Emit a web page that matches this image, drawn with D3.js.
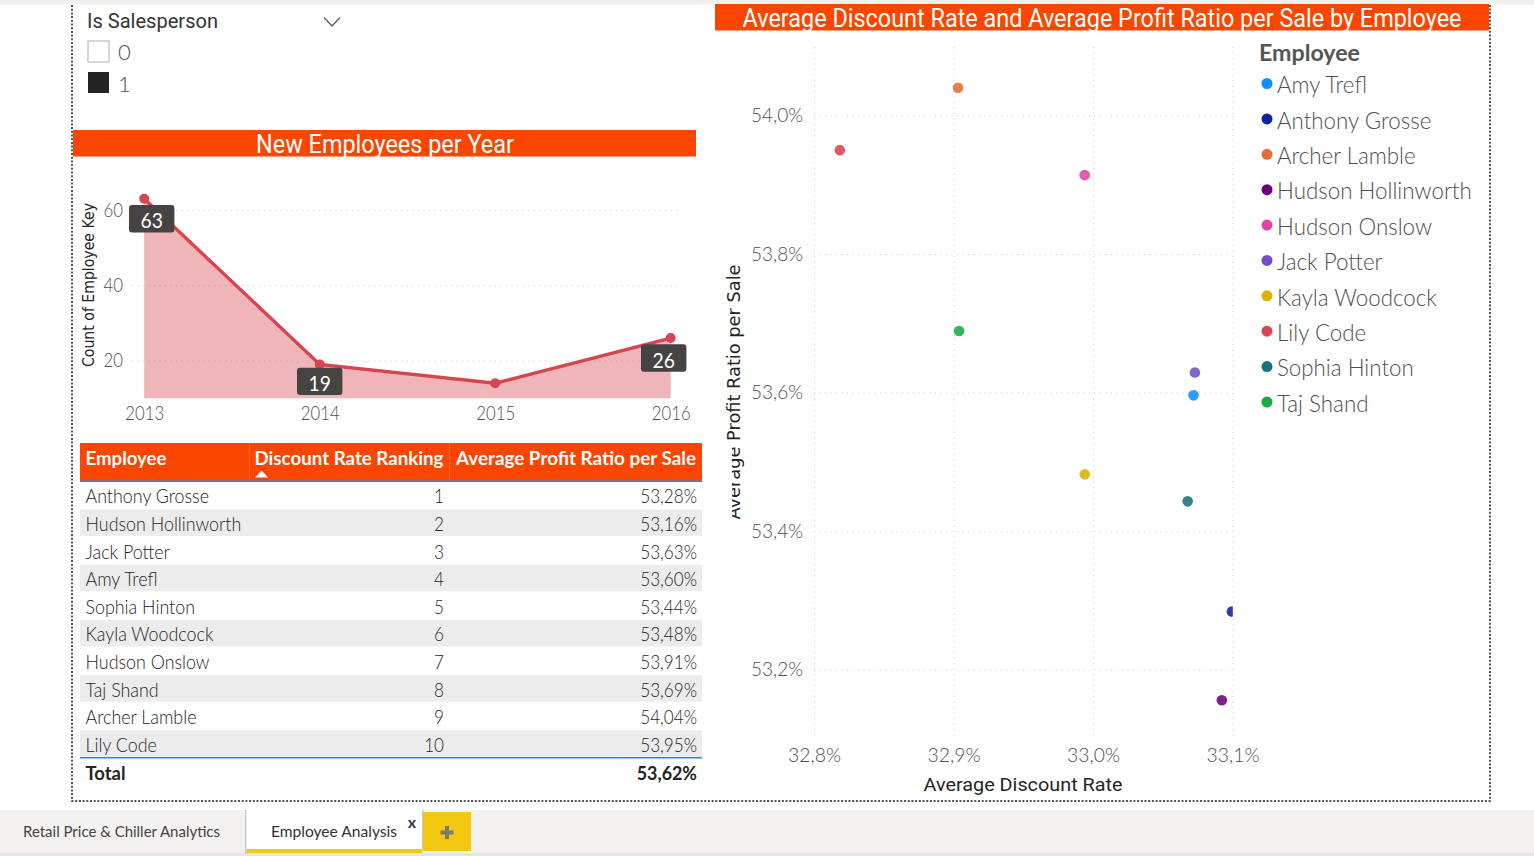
<!DOCTYPE html>
<html><head><meta charset="utf-8">
<script src="https://cdnjs.cloudflare.com/ajax/libs/d3/7.8.5/d3.min.js"></script>
<style>
html,body{margin:0;padding:0;background:#fff;overflow:hidden}
svg{display:block}
text{font-family:Lato,"Open Sans",sans-serif}
.grid line{stroke:#c8c8c8;stroke-dasharray:1 4.5}
.domain{display:none}
.tickl{fill:#504e4c;font-size:19px;font-weight:300}
</style></head><body>
<svg id="c" width="1534" height="856"></svg>
<script>
// ---- data ----
const years = [2013, 2014, 2015, 2016];
const newEmployees = [63, 19, 14, 26];
const labelledYears = [2013, 2014, 2016];

const rankedEmployees = ["Anthony Grosse","Hudson Hollinworth","Jack Potter","Amy Trefl","Sophia Hinton","Kayla Woodcock","Hudson Onslow","Taj Shand","Archer Lamble","Lily Code"];
const discountRate = [33.0995, 33.0923, 33.073, 33.072, 33.0678, 32.994, 32.994, 32.904, 32.9032, 32.8185];
const profitRatio = [53.284, 53.156, 53.629, 53.596, 53.443, 53.482, 53.914, 53.689, 54.040, 53.950];
const ranks = [1,2,3,4,5,6,7,8,9,10];
const totalProfit = 53.62;

const legendNames = ["Amy Trefl","Anthony Grosse","Archer Lamble","Hudson Hollinworth","Hudson Onslow","Jack Potter","Kayla Woodcock","Lily Code","Sophia Hinton","Taj Shand"];
const legendColors = ["#118dff","#12239e","#e66c37","#6b007b","#e044a7","#744ec2","#d9b300","#d64550","#197278","#1aab40"];
const tableHeaders = ["Employee","Discount Rate Ranking","Average Profit Ratio per Sale"];
const slicerTitle = "Is Salesperson";
const slicerItems = ["0","1"];
const tabs = ["Retail Price & Chiller Analytics","Employee Analysis"];
const xTicks = [32.8,32.9,33.0,33.1];
const yTicks = [53.2,53.4,53.6,53.8,54.0];
const lineTicks = [20,40,60];

// ---- helpers ----
const svg = d3.select("#c");
const orange = "#fa4600", blue="#118dff", ink="#252423", soft="#504e4c";
const loc = d3.formatLocale({decimal:",",thousands:".",grouping:[3],currency:["","€"]});
const pct1 = v => loc.format(".1f")(v)+"%";
const pct2 = v => loc.format(".2f")(v)+"%";
function squeeze(sel,f){
  sel.each(function(){
    const l=this.getComputedTextLength();
    d3.select(this).attr("textLength",l*f).attr("lengthAdjust","spacingAndGlyphs");
  });
  return sel;
}
function txt(g,s,x,y,o={}){
  const t=g.append("text").attr("x",x).attr("y",y).attr("dominant-baseline","central")
    .attr("text-anchor",o.anchor||"start").attr("fill",o.fill||ink)
    .style("font-size",(o.size||18)+"px").style("font-weight",o.weight||400)
    .style("font-family",o.font||null).text(s);
  if(o.len) t.attr("textLength",o.len).attr("lengthAdjust","spacingAndGlyphs");
  if(o.sq) squeeze(t,o.sq);
  return t;
}
function rect(g,x,y,w,h,f){return g.append("rect").attr("x",x).attr("y",y).attr("width",w).attr("height",h).attr("fill",f);}

// ---- page chrome ----
rect(svg,0,0,1534,4,"#f1f0ef");
rect(svg,0,4,1534,1,"#f7f7f6");
rect(svg,0,810,1534,46,"#f3f2f1");
rect(svg,0,853,1534,3,"#e6e5e3");
svg.append("path").attr("d","M72 5V801H1490V5").attr("fill","none").attr("stroke","#555").attr("stroke-width",2).attr("stroke-dasharray","2 1.7");

// tabs
rect(svg,245,810,1.5,44,"#c8c6c4");
rect(svg,246.5,810,176,39,"#fff");
rect(svg,422,810,1.5,39,"#c8c6c4");
rect(svg,246.5,849,176,4,"#f2c811");
rect(svg,423,812,48,39,"#f2c811");
txt(svg,tabs[0],23,830.5,{size:16,fill:"#444",len:197});
txt(svg,tabs[1],271,830.5,{size:16,fill:"#333",len:126});
txt(svg,"x",412,821,{size:16,anchor:"middle",fill:"#333",weight:700});
svg.append("path").attr("d","M447 826v13M440.5 832.5h13").attr("stroke","#7d7a6a").attr("stroke-width",4).attr("fill","none");

// ---- slicer ----
txt(svg,slicerTitle,87,21.5,{size:19.5,font:"Roboto",fill:"#333",len:131});
svg.append("path").attr("d","M324 17.5l8 8.5 8-8.5").attr("fill","none").attr("stroke","#555").attr("stroke-width",1.2);
rect(svg,88,41,21,21,"#fff").attr("stroke","#c8c6c4").attr("stroke-width",1.4);
rect(svg,88,72,21,21,"#252423");
txt(svg,slicerItems[0],118,51.5,{size:22,fill:soft,weight:300});
txt(svg,slicerItems[1],118,83,{size:22,fill:soft,weight:300});

// ---- line chart ----
rect(svg,73,130,623,26.5,orange);
txt(svg,"New Employees per Year",385,144.5,{size:25,anchor:"middle",fill:"#fff",font:"Roboto",weight:400,len:258});

const lx = d3.scalePoint().domain(years).range([144.2,670.7]);
const ly = d3.scaleLinear().domain([10,60]).range([398.3,210]);
const lineData = years.map((y,i)=>({y,v:newEmployees[i]}));

const lg = svg.append("g");
lg.append("g").attr("class","grid").attr("transform","translate(132,0)")
  .call(d3.axisLeft(ly).tickValues(lineTicks).tickSize(-548).tickPadding(9).tickFormat(d3.format("d")))
  .call(g=>squeeze(g.selectAll("text").attr("class","tickl").attr("x",-9),.88));
lg.append("g").attr("transform","translate(0,414)")
  .call(d3.axisBottom(lx).tickSize(0).tickPadding(0).tickFormat(d3.format("d")))
  .call(g=>squeeze(g.selectAll("text").attr("class","tickl").attr("dy","0.32em").attr("y",0),.88));
lg.append("path").datum(lineData).attr("fill","#d64550").attr("fill-opacity",.4)
  .attr("d",d3.area().x(d=>lx(d.y)).y0(ly(10)).y1(d=>ly(d.v)));
lg.append("path").datum(lineData).attr("fill","none").attr("stroke","#d64550").attr("stroke-width",3.4)
  .attr("d",d3.line().x(d=>lx(d.y)).y(d=>ly(d.v)));
lg.selectAll("circle").data(lineData).join("circle").attr("r",5).attr("fill","#d64550")
  .attr("cx",d=>lx(d.y)).attr("cy",d=>ly(d.v));
txt(lg,"Count of Employee Key",0,0,{size:15,fill:ink,anchor:"middle",font:"'DejaVu Sans'",len:164})
  .attr("transform","translate(88.5,285) rotate(-90)");
lineData.filter(d=>labelledYears.includes(d.y)).forEach(d=>{
  const dx = d.y===2013?7.5:(d.y===2016?-7:0);
  const dy = d.y===2013?20:(d.y===2014?17:20);
  const cx = lx(d.y)+dx, cy = ly(d.v)+dy;
  lg.append("rect").attr("x",cx-22.7).attr("y",cy-13.7).attr("width",45.4).attr("height",27.4).attr("rx",3).attr("fill","#474343");
  txt(lg,d.v,cx,cy+1,{size:21,fill:"#fff",anchor:"middle",sq:.92});
});

// ---- table ----
const tb = svg.append("g");
const rowH = 27.6, rowTop = 481;
const rowY = d3.scaleLinear().domain([0,10]).range([rowTop,rowTop+10*rowH]);
rect(tb,80,443,622,38,orange);
rect(tb,249,443,1,38,"#ff6a2b"); rect(tb,449,443,1,38,"#ff6a2b");
txt(tb,tableHeaders[0],85.5,457.5,{size:18.5,weight:700,fill:"#fff",len:81});
txt(tb,tableHeaders[1],254.5,457.5,{size:18.5,weight:700,fill:"#fff",len:189});
txt(tb,tableHeaders[2],456,457.5,{size:18.5,weight:700,fill:"#fff",len:240});
tb.append("path").attr("d","M255 477.5l6.5-7 6.5 7z").attr("fill","#fff");
rect(tb,80,480.5,622,1.5,blue);
rankedEmployees.forEach((n,i)=>{
  const y=rowY(i);
  if(i%2) rect(tb,80,y+1,622,rowH-1.2,"#ececec");
  const my=y+rowH/2+1;
  txt(tb,n,85.5,my,{size:19,fill:ink,weight:300,sq:.94});
  txt(tb,ranks[i],444,my,{size:19,fill:ink,anchor:"end",weight:300,sq:.9});
  txt(tb,pct2(profitRatio[i]),697,my,{size:19,fill:ink,anchor:"end",weight:300,sq:.9});
});
rect(tb,80,757,622,1.5,blue);
txt(tb,"Total",85.5,772.5,{size:19,weight:700,fill:ink,sq:.97});
txt(tb,pct2(totalProfit),697,772.5,{size:19,weight:700,fill:ink,anchor:"end",sq:.94});

// ---- scatter ----
rect(svg,715,4,774,26.5,orange);
txt(svg,"Average Discount Rate and Average Profit Ratio per Sale by Employee",1102,18.5,{size:25,anchor:"middle",fill:"#fff",font:"Roboto",weight:400,len:719});

const sx = d3.scaleLinear().domain([32.8,33.1]).range([814,1232.6]);
const sy = d3.scaleLinear().domain([53.2,54.0]).range([669.7,115.5]);
const sc = svg.append("g");
sc.append("g").attr("class","grid").attr("transform","translate(814,0)")
  .call(d3.axisLeft(sy).tickValues(yTicks).tickSize(-418.6).tickSizeOuter(0).tickPadding(11).tickFormat(pct1))
  .call(g=>squeeze(g.selectAll("text").attr("class","tickl"),1));
sc.append("g").attr("class","grid").attr("transform","translate(0,47)")
  .call(d3.axisBottom(sx).tickValues(xTicks).tickSize(693).tickSizeOuter(0).tickFormat(pct1))
  .call(g=>g.selectAll("text").remove());
sc.append("g").attr("transform","translate(0,756)")
  .call(d3.axisBottom(sx).tickValues(xTicks).tickSize(0).tickPadding(0).tickFormat(pct1))
  .call(g=>squeeze(g.selectAll("text").attr("class","tickl").attr("y",0).attr("dy","0.32em"),1.02));
svg.append("clipPath").attr("id","plot").append("rect").attr("x",800).attr("y",40).attr("width",432.8).attr("height",710);
sc.append("g").attr("clip-path","url(#plot)").selectAll("circle")
  .data(rankedEmployees.map((n,i)=>({n,x:discountRate[i],y:profitRatio[i]})))
  .join("circle").attr("r",5.3).attr("fill-opacity",.88)
  .attr("fill",d=>legendColors[legendNames.indexOf(d.n)])
  .attr("cx",d=>sx(d.x)).attr("cy",d=>sy(d.y));
txt(sc,"Average Profit Ratio per Sale",0,0,{size:18.5,anchor:"middle",font:"'DejaVu Sans'",len:255})
  .attr("transform","translate(733.5,392) rotate(-90)");
rect(sc,715,448,17,78,"#fff");
txt(sc,"Average Discount Rate",1023,784.5,{size:19,anchor:"middle",font:"Roboto",fill:"#252423",len:199});

// legend
txt(svg,"Employee",1259,52,{size:23,weight:700,fill:"#555",len:101});
const legY = d3.scalePoint().domain(legendNames).range([85,403.5]);
const lgd = svg.append("g").selectAll("g").data(legendNames).join("g");
lgd.append("circle").attr("cx",1267).attr("r",5.5).attr("cy",d=>legY(d)-1.5).attr("fill",(d,i)=>legendColors[i]);
lgd.each(function(d){txt(d3.select(this),d,1277,legY(d)-1.2,{size:24,fill:soft,weight:300,sq:.93});});
</script>
</body></html>
